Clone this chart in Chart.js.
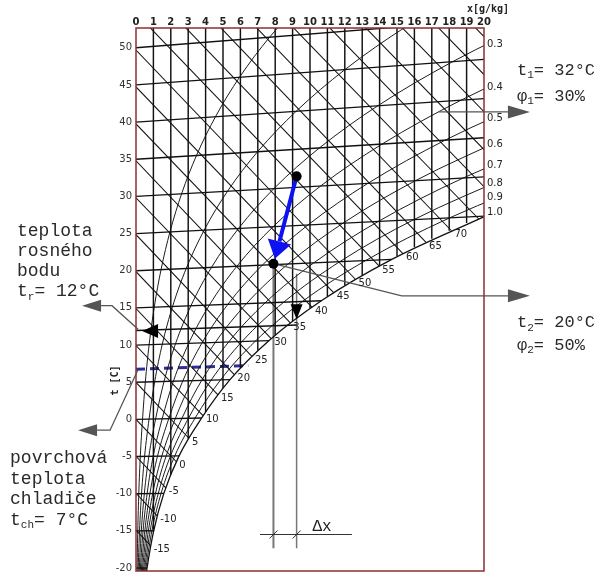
<!DOCTYPE html>
<html><head><meta charset="utf-8">
<script src="https://cdn.jsdelivr.net/npm/chart.js@4/dist/chart.umd.min.js"></script>
<style>html,body{margin:0;padding:0;background:#fff}#wrap{width:601px;height:581px}</style>
</head><body><div id="wrap"><canvas id="c" width="601" height="581"></canvas></div>
<script>
// ---------- axes ----------
const xTickValues = [0,1,2,3,4,5,6,7,8,9,10,11,12,13,14,15,16,17,18,19,20];
const yTickValues = [-20,-15,-10,-5,0,5,10,15,20,25,30,35,40,45,50];
const yMin = -20.4, yMax = 52.66;

// ---------- isotherms (t at x=0, end on saturation curve or right edge) ----------
const isoT    = [-20,-15,-10,-5,0,5,10,15,20,25,30,35,40,45,50];
const isoEndX = [0.634,1.016,1.6,2.474,3.775,5.402,7.634,10.65,14.70,20,20,20,20,20,20];
const isoEndY = [-20.0,-14.99,-9.96,-4.91,0.19,5.34,10.59,15.96,21.53,27.35,32.62,37.89,43.16,48.43,53.7];

// ---------- constant x lines ----------
const vertX    = [1,2,3,4,5,6,7,8,9,10,11,12,13,14,15,16,17,18,19];
const vertEndY = [-15.1,-7.44,-2.62,1.0,4.2,6.9,9.26,11.34,13.22,14.96,16.54,18.04,19.43,20.74,21.98,23.17,24.3,25.38,26.42];

// ---------- enthalpy lines ----------
const hVals   = [-15,-10,-5,0,5,10,15,20,25,30,35,40,45,50,55,60,65,70,75,80,85,90,95,100];
const hStartY = [-14.91,-9.94,-4.97,0,4.97,9.94,14.91,19.88,24.85,29.82,34.79,39.76,44.73,49.70,54.67,59.64,64.61,69.58,74.55,79.52,84.49,89.46,94.43,99.40];
const hEndX   = [0.842,1.217,1.715,2.319,3.04,3.85,4.71,5.65,6.66,7.77,8.87,10.11,11.37,12.62,13.98,15.34,16.67,18.13,19.7,20,20,20,20,20];
const hEndY   = [-17.0,-12.98,-9.21,-5.70,-2.54,0.51,3.31,6.03,8.47,10.88,12.98,15.09,17.03,18.82,20.63,22.30,23.83,25.38,26.96,31.3,36.3,41.4,46.4,51.5];
const hLabelCount = 18;

// ---------- relative humidity curves [x, y] ----------
const phi01 = [[0.0576,-21],[0.0634,-20.0],[0.1014,-15.0],[0.1596,-10.0],[0.2467,-4.99],[0.3755,0.02],[0.5362,5.03],[0.7548,10.06],[1.049,15.09],[1.439,20.15],[1.952,25.23],[2.619,30.34],[3.475,35.50],[4.567,40.72],[5.946,46.02],[7.676,51.42],[9.826,56.95]];
const phi02 = [[0.115,-21],[0.1267,-20.0],[0.2029,-15.0],[0.3193,-9.99],[0.4936,-4.98],[0.7513,0.04],[1.0732,5.07],[1.5116,10.12],[2.1013,15.19],[2.8852,20.30],[3.9161,25.46],[5.2577,30.69],[6.9878,36.01],[9.202,41.45],[12.006,47.06],[15.544,52.88],[19.97,58.96]];
const phi03 = [[0.1726,-21],[0.1901,-20.0],[0.3044,-15.0],[0.479,-9.99],[0.7407,-4.97],[1.1277,0.06],[1.6112,5.10],[2.27,10.17],[3.1572,15.29],[4.3385,20.45],[5.8927,25.69],[7.92,31.04],[10.54,36.52],[13.9,42.20],[18.19,48.12],[23.61,54.37]];
const phi04 = [[0.2302,-21],[0.2535,-20.0],[0.4059,-15.0],[0.6388,-9.99],[0.9879,-4.96],[1.5043,0.08],[2.1499,5.14],[3.0306,10.23],[4.2167,15.38],[5.7968,20.60],[7.881,25.93],[10.605,31.39],[14.14,37.04],[18.68,42.95],[24.49,49.20]];
const phi05 = [[0.2877,-21],[0.3169,-20.0],[0.5075,-15.0],[0.7987,-9.98],[1.2354,-4.95],[1.8817,0.09],[2.6898,5.17],[3.7931,10.29],[5.2796,15.48],[7.263,20.76],[9.885,26.16],[13.314,31.74],[17.77,37.57],[23.52,43.72]];
const phi06 = [[0.3453,-21],[0.3803,-20.0],[0.6091,-14.99],[0.9587,-9.98],[1.4831,-4.95],[2.2593,0.11],[3.2306,5.21],[4.5564,10.35],[6.347,15.57],[8.738,20.91],[11.897,26.40],[16.046,32.10],[21.45,38.10]];
const phi07 = [[0.4029,-21],[0.4437,-20.0],[0.7107,-14.99],[1.1188,-9.97],[1.731,-4.94],[2.6374,0.13],[3.7727,5.24],[5.3227,10.41],[7.416,15.67],[10.218,21.06],[13.93,26.64],[18.79,32.46],[25.17,38.64]];
const phi08 = [[0.4605,-21],[0.5072,-20.0],[0.8124,-14.99],[1.279,-9.97],[1.9791,-4.93],[3.0162,0.15],[4.3146,5.27],[6.091,10.47],[8.491,15.77],[11.71,21.22],[15.97,26.88],[21.58,32.83]];
const phi09 = [[0.5182,-21],[0.5707,-20.0],[0.914,-14.99],[1.4392,-9.97],[2.2273,-4.92],[3.395,0.17],[4.8583,5.31],[6.861,10.53],[9.568,15.87],[13.2,21.37],[18.03,27.12],[24.39,33.20]];
const phi10 = [[0.576,-21],[0.634,-20.0],[1.016,-14.99],[1.6,-9.96],[2.474,-4.91],[3.775,0.19],[5.402,5.34],[7.634,10.59],[10.65,15.96],[14.70,21.53],[20.08,27.36]];
const phiCurves = [phi01,phi02,phi03,phi04,phi05,phi06,phi07,phi08,phi09,phi10];
const phiLabelText = ['0.3','0.4','0.5','0.6','0.7','0.8','0.9','1.0'];
const phiLabelY    = [50.4,44.6,40.45,37.0,34.2,31.8,29.8,27.8];

// ---------- process ----------
const point1 = [9.23, 32.7];   // t1 = 32 °C, phi1 = 30 %
const point2 = [7.9, 20.95];   // t2 = 20 °C, phi2 = 50 %
const blueTip = [7.98, 21.6];
const dewLine = [[0,11.95],[9.23,12.7]];
const coolLine = [[0,6.75],[6.45,7.25]];
const dropLine1 = [[7.9,20.95],[7.9,-17.35]];
const dropLine2 = [[9.23,19.6],[9.23,-17.35]];
const dimLine = [[7.13,-15.49],[12.41,-15.49]];
const dimLabel = [10.69,-14.5];
const leader1 = [[17.4,41.37],[22.64,41.37]];
const leader2 = [[7.9,20.95],[15.27,16.62],[22.64,16.62]];
const dewLeader = [[0.12,12.14],[-1.38,15.3],[-3.10,15.3]];
const coolLeader = [[0.1,6.6],[-1.49,-1.45],[-3.33,-1.45]];
const dewMarkTip = [0.35,11.9];
const dewDownTip = [9.23,13.47];

// ---------- texts ----------
const leftTopX = -6.84, leftTopY = [25.3,22.65,20.0,17.2];
const leftBotX = -7.24, leftBotY = [-5.2,-8.0,-10.75,-13.55];
const rightX = 21.9, rightY = [47.0,43.5,13.0,9.95];
const xTitlePos = [20.23,55.18];
const yTitlePos = [-1.21,5.24];

// ---------- datasets ----------
const INK = '#111';
const ds = [];
const seg = (pts, color, w, extra) => Object.assign({
  data: pts.map(p => ({x:p[0], y:p[1]})), showLine:true, borderColor:color, borderWidth:w,
  pointRadius:0, pointHoverRadius:0, fill:false, tension:0
}, extra || {});

// points (drawn last -> on top)
ds.push({data:[{x:point1[0],y:point1[1]},{x:point2[0],y:point2[1]}], showLine:false,
  pointRadius:5, pointBackgroundColor:'#000', pointBorderColor:'#000', pointBorderWidth:0, order:-1, isPoints:true});
isoT.forEach((t,i) => ds.push(seg([[0,t],[isoEndX[i],isoEndY[i]]], INK, 1.35)));
vertX.forEach((x,i) => ds.push(seg([[x,yMax],[x,vertEndY[i]]], INK, 1.45)));
hVals.forEach((h,i) => ds.push(seg([[0,hStartY[i]],[hEndX[i],hEndY[i]]], INK, 1.05)));
phiCurves.forEach((c,i) => ds.push(seg(c, INK, i===9?1.3:0.95, {cubicInterpolationMode:'monotone'})));
ds.push(seg(dewLine, INK, 1.4));
ds.push(seg(dropLine1, '#777', 2));
ds.push(seg(dropLine2, '#777', 1.5));
ds.push(seg(coolLine, '#2e2e9c', 3, {borderDash:[9,5]}));

// ---------- annotation plugin ----------
function head(ctx, tip, from, len, hw, color){
  const dx = tip[0]-from[0], dy = tip[1]-from[1], d = Math.hypot(dx,dy), ux = dx/d, uy = dy/d;
  const bx = tip[0]-ux*len, by = tip[1]-uy*len;
  ctx.beginPath(); ctx.moveTo(tip[0],tip[1]);
  ctx.lineTo(bx-uy*hw, by+ux*hw); ctx.lineTo(bx+uy*hw, by-ux*hw); ctx.closePath();
  ctx.fillStyle = color; ctx.fill();
  return [bx,by];
}
function rich(ctx, segs, x, y, size, family){
  let cx = x;
  for (const [t,sub] of segs){
    const s = sub ? Math.round(size*0.62) : size;
    ctx.font = s+'px '+family;
    ctx.fillText(t, cx, sub ? y+size*0.3 : y);
    cx += ctx.measureText(t).width;
  }
}
const annot = {
  id:'annot',
  beforeDatasetDraw(chart, args){
    if (!chart.data.datasets[args.index].isPoints) return;
    const ctx = chart.ctx, sx = chart.scales.x, sy = chart.scales.y;
    const P = p => [sx.getPixelForValue(p[0]), sy.getPixelForValue(p[1])];
    ctx.save();
    const l2 = leader2.map(P);
    ctx.strokeStyle = '#555'; ctx.lineWidth = 1.3;
    const b2 = head(ctx, l2[2], l2[1], 22, 6.5, '#555');
    ctx.beginPath(); ctx.moveTo(l2[0][0],l2[0][1]); ctx.lineTo(l2[1][0],l2[1][1]); ctx.lineTo(b2[0],b2[1]); ctx.stroke();
    const a = P(point1), t = P(blueTip);
    const bb = head(ctx, t, a, 18, 12, '#0c12f2');
    ctx.strokeStyle = '#0c12f2'; ctx.lineWidth = 4;
    ctx.beginPath(); ctx.moveTo(a[0],a[1]); ctx.lineTo(bb[0],bb[1]); ctx.stroke();
    ctx.restore();
  },
  afterDatasetsDraw(chart){
    const ctx = chart.ctx, sx = chart.scales.x, sy = chart.scales.y, ar = chart.chartArea;
    const P = p => [sx.getPixelForValue(p[0]), sy.getPixelForValue(p[1])];
    ctx.save();
    ctx.strokeStyle = '#8c2f2f'; ctx.lineWidth = 1.5;
    ctx.strokeRect(ar.left, ar.top, ar.right-ar.left, ar.bottom-ar.top);
    const dm = P(dewMarkTip); head(ctx, dm, [dm[0]+10, dm[1]], 16, 7, '#000');
    const dd = P(dewDownTip); head(ctx, dd, [dd[0], dd[1]-10], 15, 6, '#000');
    const l1 = leader1.map(P);
    ctx.strokeStyle = '#555'; ctx.lineWidth = 1.3;
    const b1 = head(ctx, l1[1], l1[0], 22, 6.5, '#555');
    ctx.beginPath(); ctx.moveTo(l1[0][0],l1[0][1]); ctx.lineTo(b1[0],b1[1]); ctx.stroke();
    [dewLeader, coolLeader].forEach(L => {
      const q = L.map(P);
      const b = head(ctx, q[2], q[1], 19, 6, '#555');
      ctx.strokeStyle = '#555'; ctx.lineWidth = 1.3;
      ctx.beginPath(); ctx.moveTo(q[0][0],q[0][1]); ctx.lineTo(q[1][0],q[1][1]); ctx.lineTo(b[0],b[1]); ctx.stroke();
    });
    const d = dimLine.map(P);
    ctx.strokeStyle = '#333'; ctx.lineWidth = 1;
    ctx.beginPath(); ctx.moveTo(d[0][0],d[0][1]); ctx.lineTo(d[1][0],d[1][1]); ctx.stroke();
    [point2[0], point1[0]].forEach(xv => {
      const px = sx.getPixelForValue(xv), py = d[0][1];
      ctx.beginPath(); ctx.moveTo(px-4,py+4); ctx.lineTo(px+4,py-4); ctx.stroke();
    });
    ctx.fillStyle = '#222'; ctx.textBaseline = 'middle'; ctx.textAlign = 'center';
    ctx.font = '16px "Liberation Mono"';
    const dl = P(dimLabel); ctx.fillText('\u0394x', dl[0], dl[1]);
    ctx.textAlign = 'left'; ctx.font = '10px "DejaVu Sans"'; ctx.fillStyle = '#222';
    for (let i=0;i<hLabelCount;i++){
      const p = P([hEndX[i], hEndY[i]]);
      ctx.fillText(String(hVals[i]), p[0]+3, p[1]+4);
    }
    phiLabelText.forEach((s,i) => {
      ctx.fillText(s, sx.getPixelForValue(20)+3, sy.getPixelForValue(phiLabelY[i]));
    });
    ctx.font = 'bold 10px "DejaVu Sans Mono"'; ctx.textAlign = 'center';
    const xt = P(xTitlePos); ctx.fillText('x[g/kg]', xt[0], xt[1]);
    const yt = P(yTitlePos);
    ctx.save(); ctx.translate(yt[0], yt[1]); ctx.rotate(-Math.PI/2); ctx.fillText('t [C]', 0, 0); ctx.restore();
    ctx.textAlign = 'left'; ctx.fillStyle = '#2a2a2a';
    const fam = '"Liberation Mono"';
    const lt = [[['teplota',0]],[['rosného',0]],[['bodu',0]],[['t',0],['r',1],['= 12°C',0]]];
    lt.forEach((s,i) => rich(ctx, s, sx.getPixelForValue(leftTopX), sy.getPixelForValue(leftTopY[i]), 18, fam));
    const lb = [[['povrchová',0]],[['teplota',0]],[['chladiče',0]],[['t',0],['ch',1],['= 7°C',0]]];
    lb.forEach((s,i) => rich(ctx, s, sx.getPixelForValue(leftBotX), sy.getPixelForValue(leftBotY[i]), 18, fam));
    const rt = [[['t',0],['1',1],['= 32°C',0]],[['φ',0],['1',1],['= 30%',0]],[['t',0],['2',1],['= 20°C',0]],[['φ',0],['2',1],['= 50%',0]]];
    rt.forEach((s,i) => rich(ctx, s, sx.getPixelForValue(rightX), sy.getPixelForValue(rightY[i]), 17, fam));
    ctx.restore();
  }
};

new Chart(document.getElementById('c'), {
  type:'scatter',
  data:{datasets:ds},
  options:{
    responsive:false, animation:false, devicePixelRatio:1,
    layout:{padding:{left:0,right:117,top:0,bottom:3}},
    plugins:{legend:{display:false}, tooltip:{enabled:false}},
    elements:{line:{capBezierPoints:false}},
    events:[],
    scales:{
      x:{type:'linear', position:'top', min:0, max:20,
        grid:{display:false, drawTicks:false}, border:{display:false},
        ticks:{padding:0, autoSkip:false, maxRotation:0, color:'#222', font:{family:'DejaVu Sans', size:10, weight:'bold'}},
        afterBuildTicks:s => { s.ticks = xTickValues.map(v => ({value:v})); },
        afterFit:s => { s.height = 28; }},
      y:{type:'linear', min:yMin, max:yMax,
        grid:{display:false, drawTicks:false}, border:{display:false},
        ticks:{padding:4, autoSkip:false, color:'#333', font:{family:'DejaVu Sans', size:10}},
        afterBuildTicks:s => { s.ticks = yTickValues.map(v => ({value:v})); },
        afterFit:s => { s.width = 136; }}
    }
  },
  plugins:[annot]
});
</script></body></html>
